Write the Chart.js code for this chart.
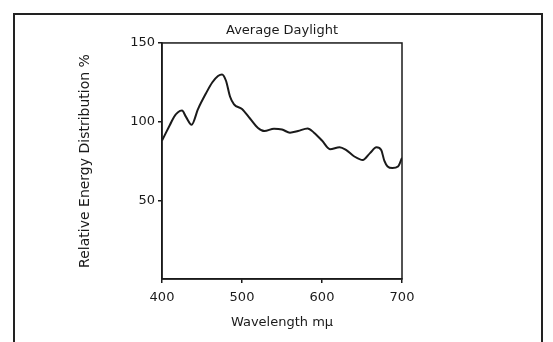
<!DOCTYPE html>
<html>
<head>
<meta charset="utf-8">
<script src="https://cdn.jsdelivr.net/npm/chart.js@4"></script>
<style>
  html, body { margin: 0; padding: 0; background: #fff; }
  #wrap { position: relative; width: 553px; height: 342px; overflow: hidden; }
  #frame { position: absolute; left: 13px; top: 13px; width: 526px; height: 340px; border: 2px solid #222; }
  canvas { position: absolute; left: 0; top: 0; }
</style>
</head>
<body>
<div id="wrap">
  <div id="frame"></div>
  <canvas id="chart" width="553" height="342"></canvas>
</div>
<script>
(() => {
  'use strict'

  // Data
  const wavelengths = [400, 405, 410, 415, 420, 425, 430, 437, 445, 455, 463, 470, 475, 480, 485, 490, 500, 510, 520, 528, 540, 550, 560, 570, 582, 590, 600, 610, 622, 630, 640, 651, 660, 668, 674, 678, 682, 688, 695, 700];
  const energy = [88, 93, 98, 103, 106, 107, 103, 98, 108, 118, 125, 129, 130, 126, 116, 111, 108, 102, 96, 94, 95.5, 95, 93, 94, 95.7, 93, 88, 82.5, 83.7, 82, 78, 75.6, 80, 83.7, 82, 75, 71.5, 70.5, 71.5, 77];
  const xTicks = [400, 500, 600, 700];
  const yTicks = [50, 100, 150];

  const ink = '#1a1a1a';
  const family = '"DejaVu Sans", Verdana, sans-serif';
  const font = { family: family, size: 13 };

  // box round the plot area
  const boxPlugin = {
    id: 'box',
    afterDraw(chart) {
      const { ctx, chartArea: a } = chart;
      ctx.save();
      ctx.strokeStyle = ink;
      ctx.lineWidth = 1.5;
      ctx.strokeRect(a.left, a.top, a.right - a.left, a.bottom - a.top);
      ctx.restore();
    }
  };

  const ctx = document.getElementById('chart');
  // eslint-disable-next-line no-unused-vars
  const myChart = new Chart(ctx, {
    type: 'line',
    data: {
      datasets: [{
        label: 'Average Daylight',
        data: wavelengths.map((w, i) => ({ x: w, y: energy[i] })),
        borderColor: ink,
        borderWidth: 2,
        pointRadius: 0,
        tension: 0.4,
        cubicInterpolationMode: 'monotone',
        fill: false
      }]
    },
    plugins: [boxPlugin],
    options: {
      responsive: false,
      animation: false,
      layout: { padding: { left: 0, right: 151, top: 15, bottom: 0 } },
      plugins: {
        legend: { display: false },
        tooltip: { enabled: false },
        title: {
          display: true,
          text: 'Average Daylight',
          color: ink,
          fullSize: false,
          font: { family: family, size: 13, weight: 'normal', lineHeight: 1.15 },
          padding: { top: 8, bottom: 5 }
        }
      },
      scales: {
        x: {
          type: 'linear',
          min: 400,
          max: 700,
          afterBuildTicks: (s) => { s.ticks = xTicks.map(v => ({ value: v })) },
          afterFit: (s) => { s.height = 63 },
          grid: { display: true, drawOnChartArea: false, drawTicks: true, tickLength: 4, color: ink, lineWidth: 1.5 },
          border: { display: true, color: ink, width: 1.5 },
          ticks: { color: ink, font: font, padding: 7, maxRotation: 0 },
          title: {
            display: true,
            text: 'Wavelength mμ',
            color: ink,
            font: font,
            padding: { top: 0, bottom: 12 }
          }
        },
        y: {
          min: 0,
          max: 150,
          afterBuildTicks: (s) => { s.ticks = yTicks.map(v => ({ value: v })) },
          afterFit: (s) => { s.width = 162 },
          grid: { display: true, drawOnChartArea: false, drawTicks: true, tickLength: 4, color: ink, lineWidth: 1.5 },
          border: { display: true, color: ink, width: 1.5 },
          ticks: { color: ink, font: font, padding: 3 },
          title: {
            display: true,
            text: 'Relative Energy Distribution %',
            color: ink,
            font: { family: family, size: 14 },
            padding: { top: 77, bottom: 0 }
          }
        }
      }
    }
  })
})()
</script>
</body>
</html>
